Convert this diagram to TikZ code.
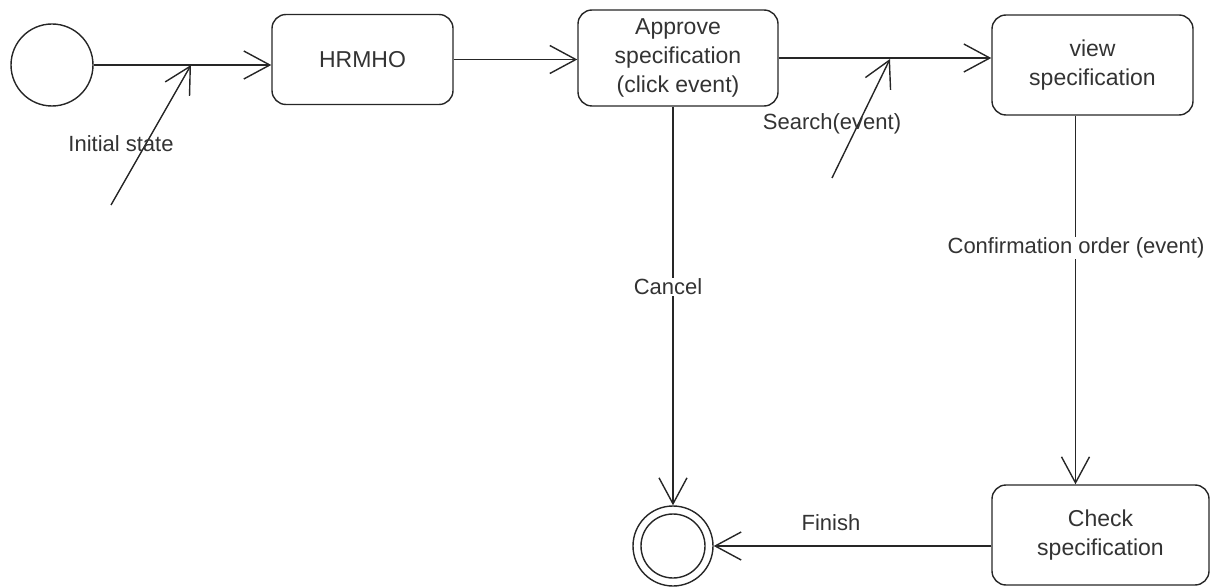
\documentclass[tikz,border=0pt]{standalone}
\usepackage{fontspec}
\setmainfont{Liberation Sans}
\usetikzlibrary{arrows.meta,calc}
\begin{document}
\begin{tikzpicture}[x=1pt,y=-1pt,
  line width=1.4pt, draw=black!85,
  state/.style={draw=black!85, rounded corners=14pt, align=center, inner sep=0pt,
    font=\fontsize{23}{29}\selectfont, text=black!80},
  trans/.style={draw=black!85, -{Straight Barb[length=26pt,width=28pt,line width=1.4pt]}},
  lbl/.style={font=\fontsize{22}{26}\selectfont, text=black!80, inner sep=1pt},
  ring/.style={draw=black!85, circle, inner sep=0pt},
]
\useasboundingbox (0,0) rectangle (1211,588);

% states
\node[ring, minimum size=82pt] (init) at (52,65) {};
\node[state, minimum width=181pt, minimum height=90pt] (hrmho) at (362.5,59.5) {HRMHO};
\node[state, minimum width=200pt, minimum height=96pt] (approve) at (678,58) {Approve\\specification\\(click event)};
\node[state, minimum width=201pt, minimum height=100pt] (view) at (1092.5,65) {view\\specification};
\node[state, minimum width=217pt, minimum height=100pt] (check) at (1100.5,535) {Check\\specification};
\node[ring, minimum size=80pt] (end) at (673,546) {};
\node[ring, minimum size=64pt] (endin) at (end) {};

% transitions
\draw[trans] (init.east) -- (init.east -| hrmho.west);
\draw[trans] (hrmho.east) -- (hrmho.east -| approve.west);
\draw[trans] (approve.east) -- (approve.east -| view.west);
\draw[trans] (end.north |- approve.south) -- (end.north);
\coordinate (vOut) at ($(view.south)+(-17,0)$);
\draw[trans] (vOut) -- (vOut |- check.north);
\draw[trans] (end.east -| check.west) -- (end.east);

% event arrows pointing at transitions
\coordinate (iTail) at (111,205);
\coordinate (iTip) at (191,65);
\draw[trans] (iTail) -- (iTip);
\coordinate (sTail) at (832,178);
\coordinate (sTip) at (890,59);
\draw[trans] (sTail) -- (sTip);

% labels
\node[lbl] (lInit) at (121,144) {Initial state};
\node[lbl] (lSearch) at (832,124) {Search(event)};
\node[lbl, fill=white] (lCancel) at (668,287) {Cancel};
\node[lbl, fill=white] (lConfirm) at (1076,248) {Confirmation order (event)};
\node[lbl] (lFinish) at (831,523) {Finish};
\end{tikzpicture}
\end{document}
